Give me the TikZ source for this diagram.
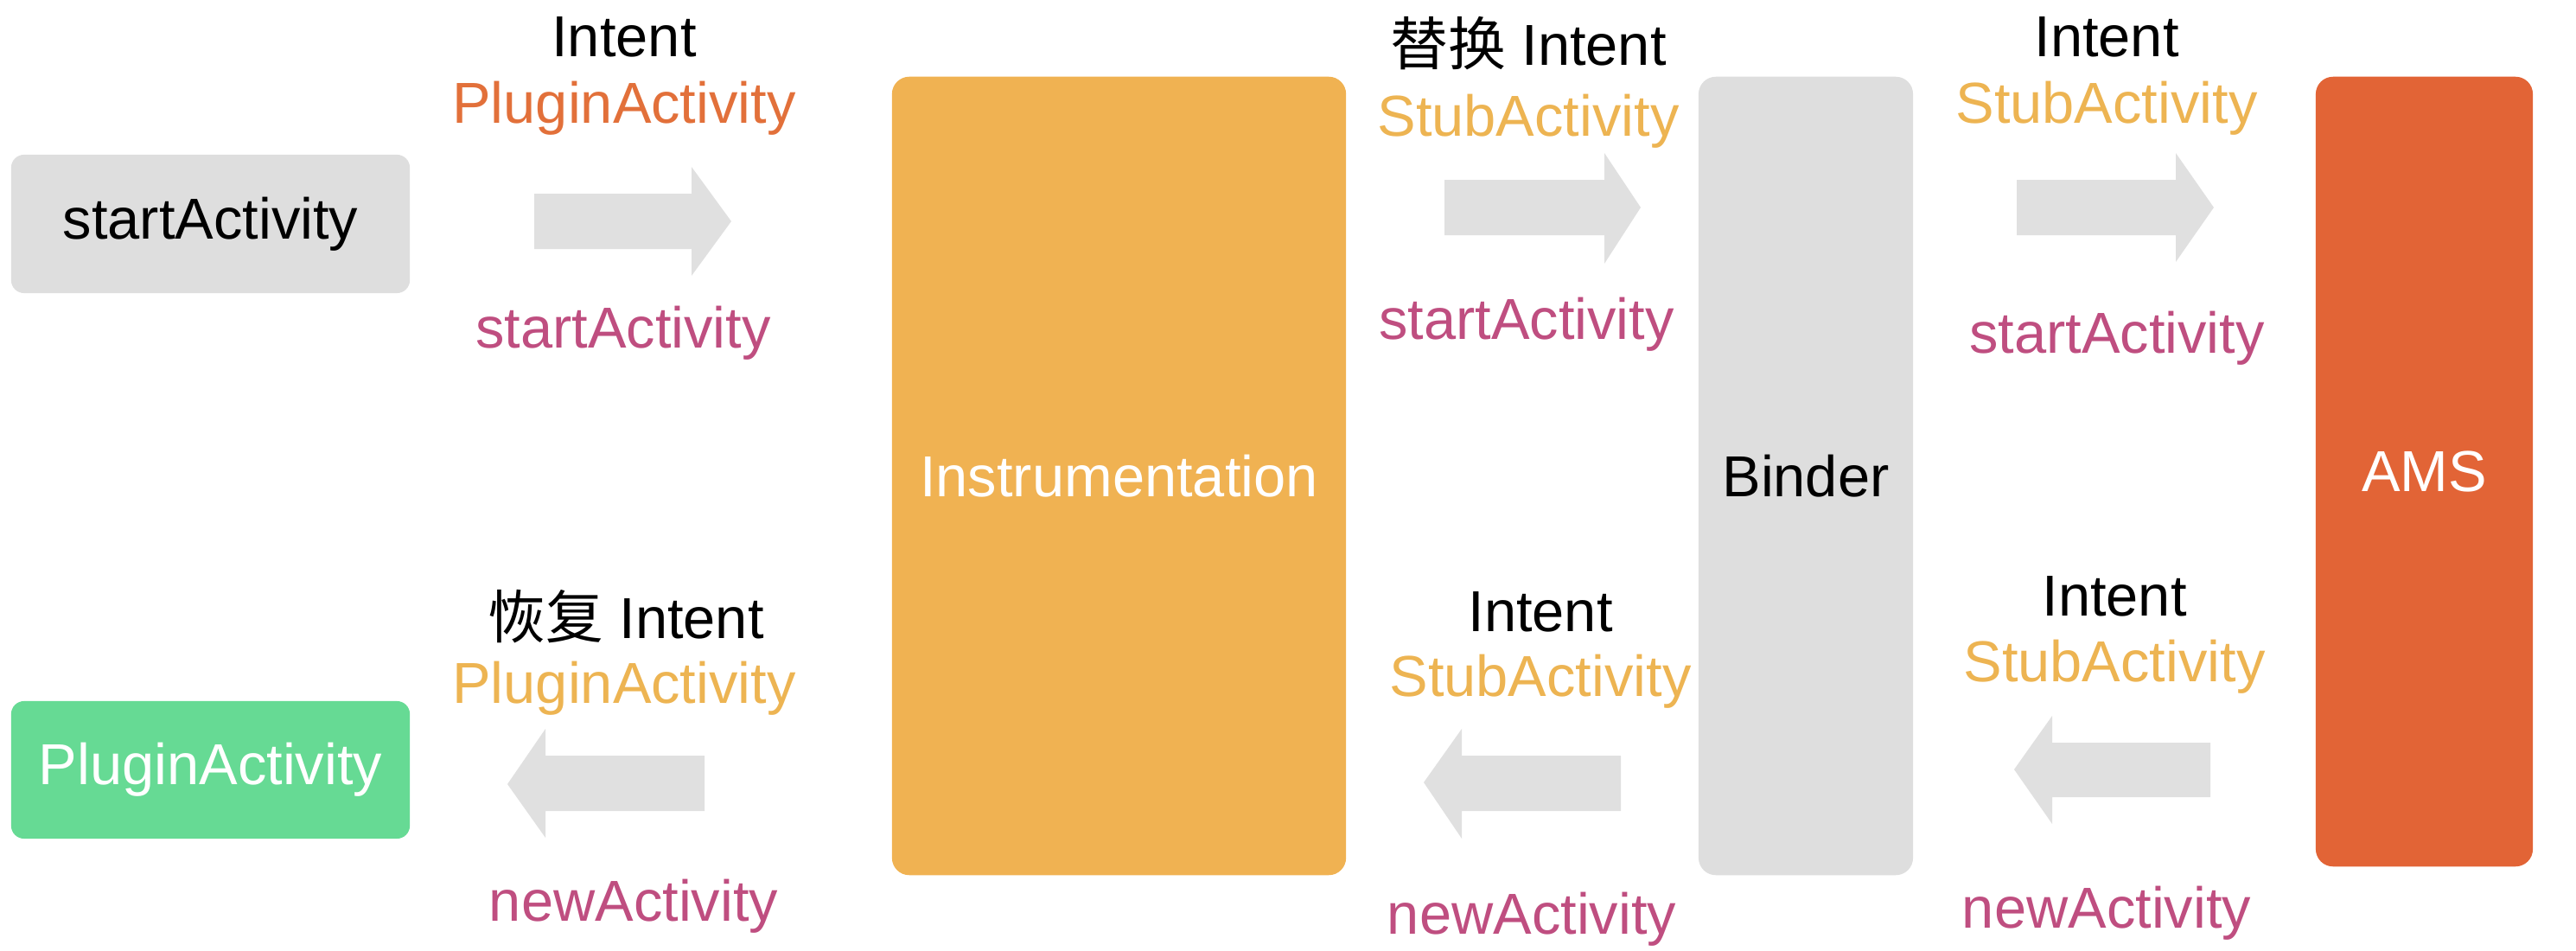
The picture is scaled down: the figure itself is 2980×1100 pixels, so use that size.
\documentclass[tikz,border=0pt]{standalone}
\usepackage{fontspec}
\setmainfont{Liberation Sans}
\newfontfamily\cjk{Noto Sans CJK SC}
\definecolor{boxgray}{HTML}{DEDEDE}
\definecolor{arrgray}{HTML}{E0E0E0}
\definecolor{instr}{HTML}{F0B252}
\definecolor{ams}{HTML}{E26436}
\definecolor{plgreen}{HTML}{66DA94}
\definecolor{txtorange}{HTML}{E2703A}
\definecolor{txtyellow}{HTML}{EDB452}
\definecolor{txtmagenta}{HTML}{BF4E80}
\begin{document}
\begin{tikzpicture}[x=0.01cm,y=-0.01cm,
  every node/.style={inner sep=0pt,outer sep=0pt},
  fnt/.style={font=\fontsize{19}{22}\selectfont},
  lbl/.style={fnt,anchor=base},
  boxsmall/.style={fnt,rounded corners=0.15cm,minimum width=4.61cm,minimum height=1.6cm},
  boxtall/.style={fnt,rounded corners=0.2cm},
  blk/.style={fill=arrgray}]
\useasboundingbox (0,0) rectangle (2980,1100);
% boxes
\node[boxsmall,fill=boxgray,text=black] (sa) at (243.5,259) {startActivity};
\node[boxsmall,fill=plgreen,text=white,minimum height=1.59cm] (pa) at (243.5,890.5) {PluginActivity};
\node[boxtall,fill=instr,text=white,minimum width=5.25cm,minimum height=9.23cm] (ins) at (1294.5,550.5) {Instrumentation};
\node[boxtall,fill=boxgray,text=black,minimum width=2.48cm,minimum height=9.23cm] (bin) at (2089,550.5) {Binder};
\node[boxtall,fill=ams,text=white,minimum width=2.51cm,minimum height=9.13cm] (ams) at (2804.5,545.5) {AMS};
% right-pointing block arrows
\fill[blk] (618,224) -- (800,224) -- (800,193) -- (846,256) -- (800,319) -- (800,288) -- (618,288) -- cycle;
\fill[blk] (1671,208) -- (1856,208) -- (1856,177) -- (1898,240) -- (1856,305) -- (1856,272) -- (1671,272) -- cycle;
\fill[blk] (2333,208) -- (2517,208) -- (2517,177) -- (2561,240) -- (2517,303) -- (2517,272) -- (2333,272) -- cycle;
% left-pointing block arrows
\fill[blk] (815,874) -- (631,874) -- (631,843) -- (587,907) -- (631,969) -- (631,938) -- (815,938) -- cycle;
\fill[blk] (1875,874) -- (1691,874) -- (1691,843) -- (1647,905) -- (1691,970) -- (1691,938) -- (1875,938) -- cycle;
\fill[blk] (2557,859) -- (2374,859) -- (2374,828) -- (2330,890) -- (2374,953) -- (2374,922) -- (2557,922) -- cycle;
% labels top
\node[lbl,text=black] (t1a) at (722,65) {Intent};
\node[lbl,text=txtorange] (t1b) at (722,142) {PluginActivity};
\node[lbl,text=txtmagenta] (t1c) at (721,402) {startActivity};
\node[lbl,text=black] (t2a) at (1768,75) {{\cjk 替换} Intent};
\node[lbl,text=txtyellow] (t2b) at (1768,157) {StubActivity};
\node[lbl,text=txtmagenta] (t2c) at (1766,392) {startActivity};
\node[lbl,text=black] (t3a) at (2437,65) {Intent};
\node[lbl,text=txtyellow] (t3b) at (2437,143) {StubActivity};
\node[lbl,text=txtmagenta] (t3c) at (2449,408) {startActivity};
% labels bottom
\node[lbl,text=black] (b1a) at (724,738) {{\cjk 恢复} Intent};
\node[lbl,text=txtyellow] (b1b) at (722,813) {PluginActivity};
\node[lbl,text=txtmagenta] (b1c) at (733,1065) {newActivity};
\node[lbl,text=black] (b2a) at (1782,730) {Intent};
\node[lbl,text=txtyellow] (b2b) at (1782,805) {StubActivity};
\node[lbl,text=txtmagenta] (b2c) at (1772,1080) {newActivity};
\node[lbl,text=black] (b3a) at (2446,712) {Intent};
\node[lbl,text=txtyellow] (b3b) at (2446,788) {StubActivity};
\node[lbl,text=txtmagenta] (b3c) at (2437,1073) {newActivity};
\end{tikzpicture}
\end{document}
